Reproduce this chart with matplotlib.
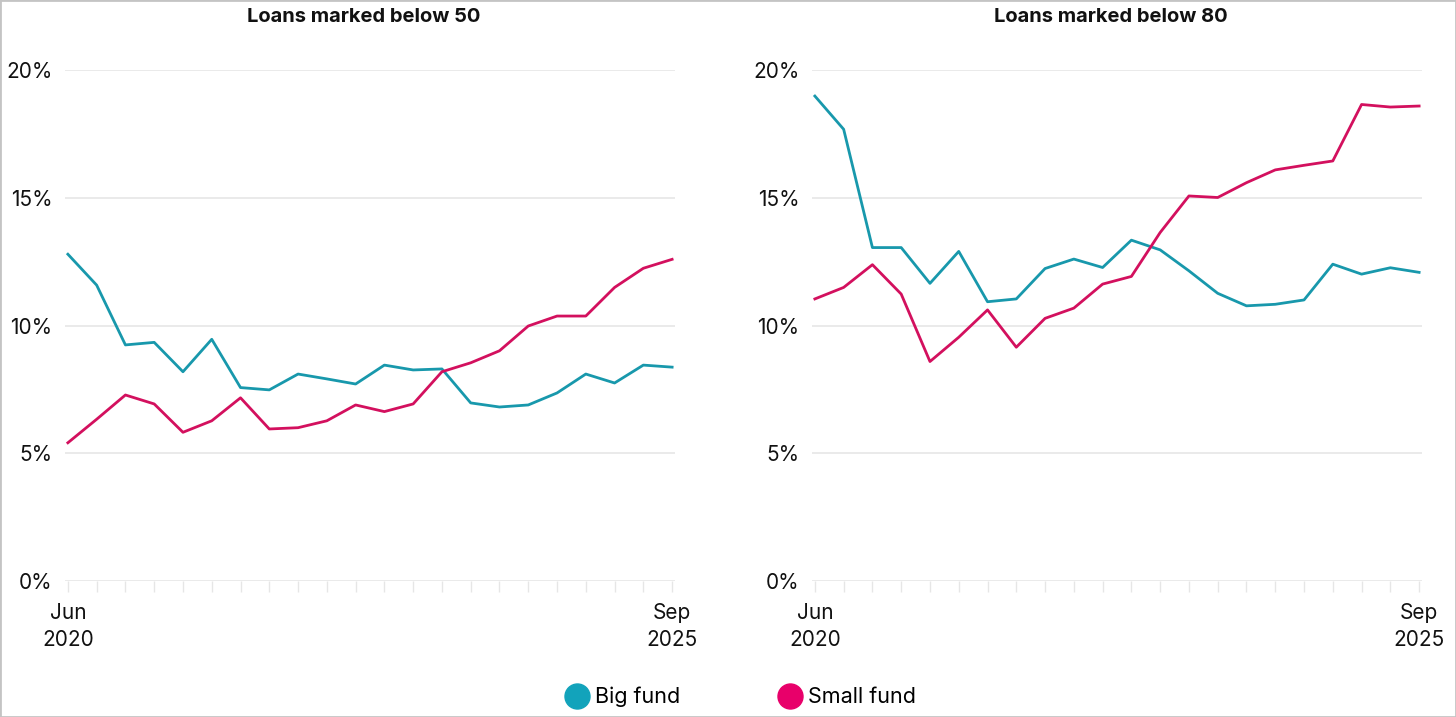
import matplotlib
matplotlib.use('Agg')
import matplotlib.pyplot as plt
from matplotlib.lines import Line2D
from matplotlib.patches import Rectangle

plt.rcParams['font.family'] = ['Inter', 'DejaVu Sans']

# quarterly, Jun 2020 .. Sep 2025 (22 quarters)
quarters = list(range(22))
x_labels = {0: 'Jun\n2020', 21: 'Sep\n2025'}

big_below_50 = [12.79, 11.58, 9.24, 9.34, 8.19, 9.46, 7.57, 7.48, 8.10, 7.91, 7.71,
                8.45, 8.26, 8.30, 6.97, 6.81, 6.89, 7.36, 8.10, 7.75, 8.45, 8.37]
small_below_50 = [5.41, 6.33, 7.28, 6.93, 5.82, 6.27, 7.17, 5.95, 6.00, 6.27, 6.89,
                  6.63, 6.93, 8.19, 8.54, 9.01, 9.98, 10.37, 10.37, 11.49, 12.24, 12.59]

big_below_80 = [18.98, 17.68, 13.05, 13.05, 11.65, 12.90, 10.93, 11.04, 12.23, 12.60, 12.27,
                13.34, 12.96, 12.14, 11.26, 10.77, 10.83, 11.00, 12.40, 12.01, 12.26, 12.08]
small_below_80 = [11.04, 11.49, 12.38, 11.23, 8.59, 9.54, 10.61, 9.15, 10.28, 10.68, 11.62,
                  11.92, 13.64, 15.07, 15.01, 15.59, 16.09, 16.27, 16.44, 18.65, 18.55, 18.59]

titles = ['Loans marked below 50', 'Loans marked below 80']
y_ticks = [0, 5, 10, 15, 20]

TEAL = '#1898ac'
PINK = '#d3105e'
TEAL_DOT = '#12a3bb'
PINK_DOT = '#e8006a'
GRID = '#e6e6e6'

W, H = 1456, 717
fig = plt.figure(figsize=(W / 100, H / 100), dpi=100)

# pixel boxes: (left, right) of each panel, shared vertical extent
panels = [(65, 675), (812, 1422)]
y0_px, y20_px = 581, 70
title_px = 17

series = [(big_below_50, small_below_50), (big_below_80, small_below_80)]

for (l, r), (big, small), title in zip(panels, series, titles):
    ax = fig.add_axes([l / W, 1 - y0_px / H, (r - l) / W, (y0_px - y20_px) / H])
    ax.set_xlim(-0.1, 21.1)
    ax.set_ylim(0, 20)
    for s in ax.spines.values():
        s.set_visible(False)
    for yv in y_ticks:
        ax.axhline(yv, color=GRID, lw=1.2, zorder=0)
    ax.plot(quarters, big, color=TEAL, lw=2.0, zorder=3, clip_on=False)
    ax.plot(quarters, small, color=PINK, lw=2.0, zorder=3, clip_on=False)

    ax.set_yticks(y_ticks)
    ax.set_yticklabels([f'{v}%' for v in y_ticks], fontsize=15, color='#111111')
    ax.tick_params(axis='y', length=0, pad=9)

    ax.set_xticks(quarters)
    ax.set_xticklabels([x_labels.get(q, '') for q in quarters], fontsize=15,
                       color='#111111', linespacing=1.4)
    ax.tick_params(axis='x', length=8, width=1, color=GRID, pad=8, direction='out')

    ax.text(0.49, (y0_px - title_px) / (y0_px - y20_px), title, transform=ax.transAxes,
            ha='center', va='center', fontsize=14.5, fontweight='bold', color='#111111')

handles = [Line2D([], [], marker='o', ls='', markersize=18, color=TEAL_DOT),
           Line2D([], [], marker='o', ls='', markersize=18, color=PINK_DOT)]
fig.legend(handles, ['Big fund', 'Small fund'], loc='center', bbox_to_anchor=(0.509, 1 - 697 / H),
           ncol=2, frameon=False, fontsize=15.5, handletextpad=0.35, columnspacing=4.6,
           handlelength=1.0)

fig.patches.append(Rectangle((0, 0), 1, 1, transform=fig.transFigure, fill=False,
                             edgecolor='#c4c4c4', lw=2))

fig.savefig('out.png', dpi=100)
